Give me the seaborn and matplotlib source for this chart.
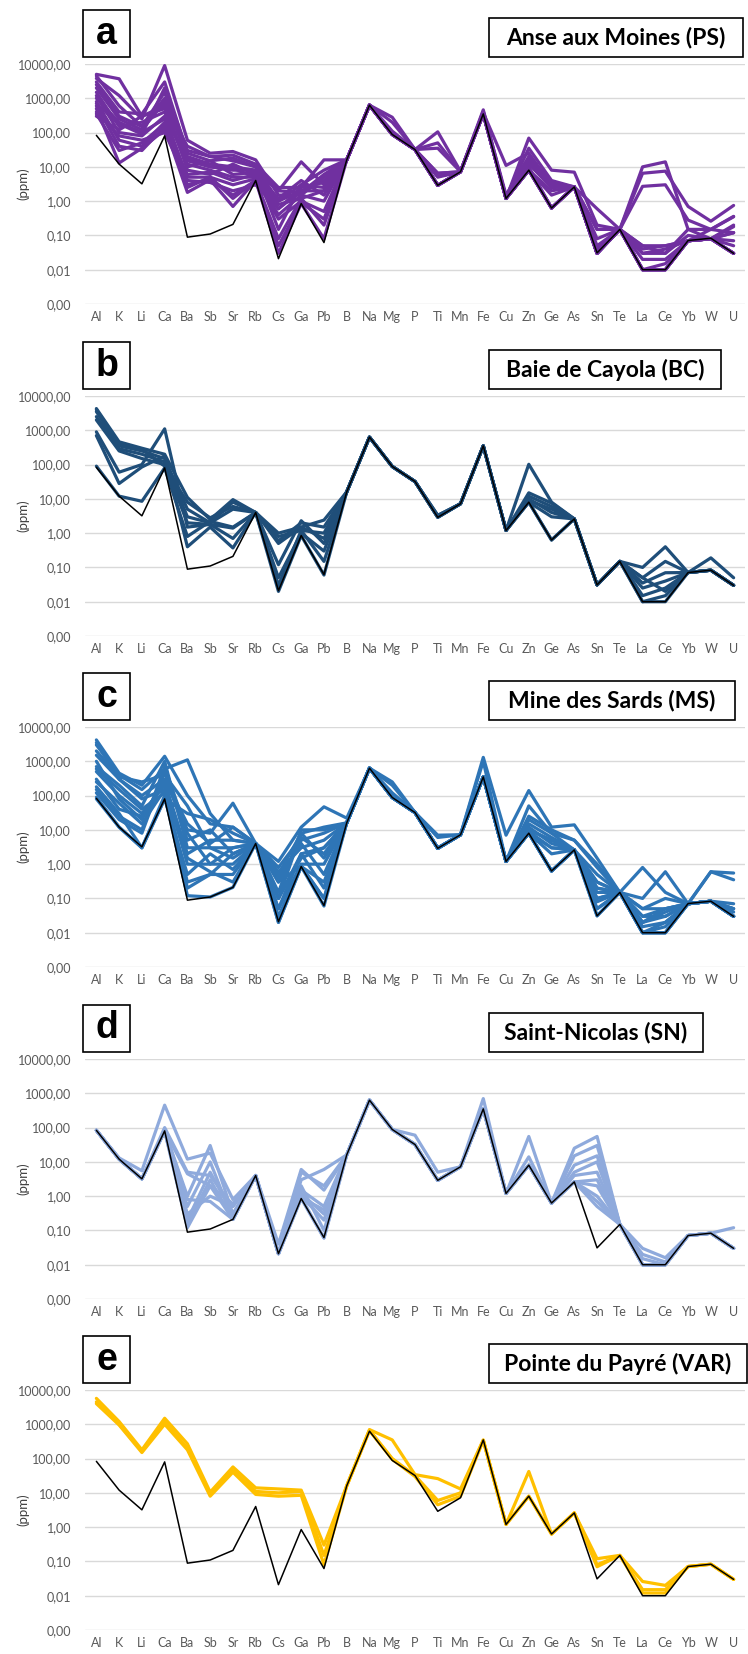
import matplotlib
matplotlib.use("Agg")
import matplotlib.pyplot as plt
from matplotlib.patches import Rectangle
from matplotlib.ticker import FixedLocator, FuncFormatter, NullLocator
import pandas as pd
import seaborn as sns

# ---------------------------------------------------------------- data
elements = ["Al", "K", "Li", "Ca", "Ba", "Sb", "Sr", "Rb", "Cs", "Ga", "Pb", "B",
            "Na", "Mg", "P", "Ti", "Mn", "Fe", "Cu", "Zn", "Ge", "As", "Sn", "Te",
            "La", "Ce", "Yb", "W", "U"]

# reference composition (black line, identical in every panel)
reference = [83, 12, 3.2, 80, 0.089, 0.11, 0.21, 4.0, 0.021, 0.85, 0.062, 16,
             630, 88, 32, 2.9, 7.2, 350, 1.2, 8.0, 0.63, 2.6, 0.031, 0.15,
             0.010, 0.010, 0.071, 0.083, 0.030]

# Anse aux Moines (PS)
ps_samples = [
    [5000, 3700, 300, 600, 40, 20, 22, 12, 2.5, 2.5, 16, 16, 630, 280, 32, 105, 7.4, 460, 1.3, 35, 4.0, 2.6, 0.15, 0.15, 10, 14, 0.15, 0.15, 0.35],
    [3800, 1200, 250, 9000, 60, 25, 28, 16, 1.5, 1.5, 5, 16, 630, 110, 32, 50, 7.4, 380, 11, 25, 3, 2.6, 0.6, 0.15, 6.5, 7.5, 0.7, 0.26, 0.75],
    [3000, 400, 350, 3000, 25, 15, 18, 10, 2.0, 14, 3, 16, 630, 95, 32, 35, 7.2, 400, 1.2, 69, 8, 7, 0.2, 0.15, 2.7, 3.0, 0.28, 0.15, 0.36],
    [2500, 300, 150, 1500, 15, 10, 8, 8, 1.0, 2.0, 4, 16, 630, 90, 32, 6.5, 7.2, 360, 1.2, 16, 2.7, 2.6, 0.03, 0.15, 0.03, 0.04, 0.07, 0.08, 0.18],
    [2000, 250, 120, 800, 8, 6, 12, 6, 0.8, 1.2, 2, 16, 630, 88, 32, 5.3, 7.2, 350, 1.2, 12, 2.5, 2.6, 0.05, 0.15, 0.05, 0.03, 0.15, 0.08, 0.12],
    [1500, 150, 200, 400, 12, 8, 5, 5, 0.4, 1.5, 1.0, 16, 630, 88, 32, 2.9, 7.2, 350, 1.2, 8, 2.0, 2.6, 0.04, 0.15, 0.02, 0.02, 0.07, 0.08, 0.07],
    [1200, 100, 80, 300, 5, 5, 3, 4.5, 0.3, 1.0, 0.5, 16, 630, 88, 32, 2.9, 7.2, 350, 1.2, 8, 1.5, 2.6, 0.03, 0.15, 0.04, 0.05, 0.07, 0.08, 0.12],
    [1000, 200, 100, 250, 20, 12, 10, 8, 0.15, 3.0, 2.5, 16, 630, 88, 32, 2.9, 7.2, 350, 1.2, 10, 0.63, 2.6, 0.03, 0.15, 0.01, 0.01, 0.07, 0.08, 0.05],
    [800, 60, 40, 200, 3, 4.5, 1.5, 4.0, 0.05, 0.9, 0.3, 16, 630, 88, 32, 2.9, 7.2, 350, 1.2, 8, 0.63, 2.6, 0.03, 0.15, 0.01, 0.015, 0.07, 0.08, 0.03],
    [600, 40, 30, 150, 1.8, 4.2, 0.7, 4.0, 0.03, 0.85, 0.08, 16, 630, 88, 32, 2.9, 7.2, 350, 1.2, 8, 0.63, 2.6, 0.03, 0.15, 0.01, 0.01, 0.07, 0.08, 0.03],
    [500, 13, 35, 120, 6, 7, 4, 6, 1.2, 4.0, 1.5, 16, 630, 88, 32, 2.9, 7.2, 350, 1.2, 8, 0.63, 2.6, 0.03, 0.15, 0.01, 0.01, 0.07, 0.08, 0.03],
    [400, 80, 60, 100, 4, 3.5, 2, 3, 0.6, 2.5, 3.5, 16, 630, 88, 32, 2.9, 7.2, 350, 1.2, 8, 0.63, 2.6, 0.03, 0.15, 0.01, 0.01, 0.07, 0.08, 0.03],
    [300, 120, 300, 500, 10, 15, 6, 7, 2.0, 1.8, 6, 16, 630, 88, 32, 2.9, 7.2, 350, 1.2, 8, 0.63, 2.6, 0.03, 0.15, 0.01, 0.01, 0.07, 0.08, 0.03],
    [700, 180, 90, 2000, 30, 20, 15, 10, 1.0, 3.0, 8, 16, 630, 200, 32, 6.5, 7.2, 420, 1.5, 20, 3.5, 2.6, 0.15, 0.15, 0.05, 0.05, 0.07, 0.15, 0.12],
    [350, 30, 50, 180, 2.5, 5, 1.2, 4, 0.08, 1.2, 0.2, 16, 630, 88, 32, 2.9, 7.2, 350, 1.2, 8, 0.63, 2.6, 0.03, 0.15, 0.01, 0.01, 0.07, 0.08, 0.03],
    [4500, 600, 150, 1000, 18, 10, 9, 5, 0.6, 2.0, 2.0, 16, 630, 100, 32, 5, 7.2, 370, 1.2, 14, 2.7, 2.6, 0.08, 0.15, 0.03, 0.03, 0.1, 0.08, 0.2],
]

# Baie de Cayola (BC)
bc_samples = [
    [4300, 460, 300, 200, 11, 2.5, 9.5, 4, 1.0, 1.5, 2.4, 16, 630, 88, 32, 3.3, 7.2, 350, 1.2, 15, 7.5, 2.6, 0.031, 0.15, 0.1, 0.4, 0.071, 0.083, 0.03],
    [3500, 350, 250, 150, 5, 2.0, 8, 4, 0.8, 1.2, 1.0, 16, 630, 88, 32, 3.3, 7.2, 350, 1.2, 12, 6, 2.6, 0.031, 0.15, 0.05, 0.15, 0.071, 0.19, 0.05],
    [2500, 290, 200, 120, 3, 2.0, 5, 4, 0.5, 1.5, 0.7, 16, 630, 88, 32, 3.0, 7.2, 350, 1.2, 10, 4, 2.6, 0.031, 0.15, 0.035, 0.07, 0.071, 0.083, 0.03],
    [2000, 250, 150, 100, 2, 1.8, 1.4, 4, 0.12, 2.3, 0.5, 16, 630, 88, 32, 3.0, 7.2, 350, 1.2, 8, 3, 2.6, 0.031, 0.15, 0.025, 0.04, 0.071, 0.083, 0.03],
    [900, 60, 100, 1100, 1.5, 1.8, 0.7, 4, 0.05, 1.0, 0.3, 16, 630, 88, 32, 2.9, 7.2, 350, 1.2, 102, 8, 2.6, 0.031, 0.15, 0.015, 0.025, 0.071, 0.083, 0.03],
    [700, 28, 85, 180, 0.4, 1.5, 0.37, 4, 0.03, 1.2, 0.15, 16, 630, 88, 32, 2.9, 7.2, 350, 1.2, 8, 0.63, 2.6, 0.031, 0.15, 0.01, 0.015, 0.071, 0.083, 0.03],
    [90, 12, 8.5, 80, 0.8, 2.2, 1.5, 4, 0.02, 0.85, 0.06, 16, 630, 88, 32, 2.9, 7.2, 350, 1.2, 8, 0.63, 2.6, 0.031, 0.15, 0.01, 0.01, 0.071, 0.083, 0.03],
    [4000, 400, 280, 90, 8, 2.8, 6, 4, 0.6, 2.0, 1.5, 16, 630, 88, 32, 3.0, 7.2, 350, 1.2, 9, 5, 2.6, 0.031, 0.15, 0.05, 0.02, 0.071, 0.083, 0.03],
]

# Mine des Sards (MS)
ms_samples = [
    [4200, 450, 200, 1400, 100, 15, 12, 4, 1.2, 12, 47, 22, 630, 250, 32, 7.0, 7.2, 1300, 7, 140, 12, 14, 1.5, 0.15, 0.8, 0.15, 0.07, 0.6, 0.55],
    [3000, 400, 150, 600, 1100, 30, 5, 4, 0.5, 8, 12, 16, 630, 200, 32, 6.0, 7.2, 1000, 1.2, 50, 8, 5, 1.0, 0.15, 0.1, 0.6, 0.07, 0.6, 0.35],
    [1500, 300, 100, 300, 10, 8, 60, 4, 0.3, 5, 8, 16, 630, 120, 32, 3.0, 7.2, 350, 1.2, 20, 8, 2.6, 0.5, 0.15, 0.05, 0.1, 0.07, 0.083, 0.07],
    [700, 200, 50, 1000, 3, 3, 3, 4, 0.1, 2, 3, 16, 630, 88, 32, 2.9, 7.2, 350, 1.2, 10, 5, 2.6, 0.2, 0.15, 0.02, 0.05, 0.07, 0.083, 0.05],
    [500, 100, 30, 200, 1, 1, 1, 4, 0.05, 1, 1, 16, 630, 88, 32, 2.9, 7.2, 350, 1.2, 8, 3, 2.6, 0.1, 0.15, 0.01, 0.02, 0.07, 0.083, 0.03],
    [250, 60, 15, 150, 0.3, 0.5, 0.5, 4, 0.02, 0.85, 0.3, 16, 630, 88, 32, 2.9, 7.2, 350, 1.2, 8, 0.63, 2.6, 0.05, 0.15, 0.01, 0.01, 0.07, 0.083, 0.03],
    [180, 30, 3, 100, 0.12, 0.11, 0.21, 4, 0.02, 0.85, 0.1, 16, 630, 88, 32, 2.9, 7.2, 350, 1.2, 8, 0.63, 2.6, 0.031, 0.15, 0.01, 0.01, 0.07, 0.083, 0.03],
    [120, 20, 8, 500, 5, 10, 2, 4, 0.6, 3, 5, 16, 630, 88, 32, 2.9, 7.2, 350, 1.2, 12, 4, 2.6, 0.3, 0.15, 0.03, 0.03, 0.07, 0.083, 0.05],
    [90, 12, 3, 80, 30, 20, 8, 4, 0.15, 10, 10, 16, 630, 88, 32, 2.9, 7.2, 350, 1.2, 25, 10, 5, 0.8, 0.15, 0.02, 0.04, 0.07, 0.083, 0.03],
    [80, 12, 3, 80, 0.5, 2, 0.7, 4, 0.03, 0.85, 0.06, 16, 630, 88, 32, 2.9, 7.2, 350, 1.2, 8, 0.63, 2.6, 0.031, 0.15, 0.01, 0.01, 0.07, 0.083, 0.03],
    [2000, 350, 250, 400, 50, 3, 1.5, 4, 0.8, 6, 2, 16, 630, 88, 32, 2.9, 7.2, 350, 1.2, 10, 5, 2.6, 0.2, 0.15, 0.05, 0.05, 0.07, 0.083, 0.04],
    [300, 40, 25, 250, 2, 5, 5, 4, 0.4, 4, 0.5, 16, 630, 88, 32, 2.9, 7.2, 350, 1.2, 9, 3, 2.6, 0.15, 0.15, 0.02, 0.03, 0.07, 0.083, 0.03],
    [150, 25, 10, 700, 8, 1, 3, 4, 0.1, 8, 1.5, 16, 630, 88, 32, 2.9, 7.2, 350, 1.2, 8, 2, 2.6, 0.1, 0.15, 0.015, 0.02, 0.07, 0.083, 0.03],
    [3500, 300, 80, 150, 1.5, 0.6, 0.3, 4, 0.05, 2, 0.2, 16, 630, 88, 32, 2.9, 7.2, 350, 1.2, 8, 0.63, 2.6, 0.05, 0.15, 0.01, 0.015, 0.07, 0.083, 0.03],
    [600, 150, 40, 120, 0.2, 0.5, 2, 4, 0.3, 0.9, 0.1, 16, 630, 88, 32, 2.9, 7.2, 350, 1.2, 8, 0.63, 2.6, 0.08, 0.15, 0.01, 0.01, 0.07, 0.083, 0.03],
    [1000, 80, 20, 300, 15, 4, 12, 4, 0.1, 1.5, 3, 16, 630, 88, 32, 2.9, 7.2, 350, 1.2, 15, 6, 2.6, 0.3, 0.15, 0.03, 0.05, 0.07, 0.083, 0.05],
]

# Saint-Nicolas (SN)
sn_samples = [
    [83, 13, 5.5, 450, 12, 18, 0.8, 4, 0.04, 6, 1.5, 16, 630, 88, 60, 5, 7.2, 700, 1.2, 55, 0.63, 25, 55, 0.15, 0.03, 0.016, 0.071, 0.083, 0.12],
    [83, 12, 3.2, 100, 5, 4, 0.5, 4, 0.021, 3, 6, 16, 630, 88, 32, 2.9, 7.2, 350, 1.2, 14, 0.63, 15, 30, 0.15, 0.02, 0.012, 0.071, 0.083, 0.03],
    [83, 12, 3.2, 80, 1, 30, 0.3, 4, 0.021, 1.5, 0.5, 16, 630, 88, 32, 2.9, 7.2, 350, 1.2, 8, 0.63, 8, 15, 0.15, 0.015, 0.01, 0.071, 0.083, 0.03],
    [83, 12, 3.2, 80, 0.5, 10, 0.21, 4, 0.021, 1.0, 0.2, 16, 630, 88, 32, 2.9, 7.2, 350, 1.2, 8, 0.63, 4, 5, 0.15, 0.01, 0.01, 0.071, 0.083, 0.03],
    [83, 12, 3.2, 80, 0.2, 5, 0.3, 4, 0.021, 2, 0.1, 16, 630, 88, 32, 2.9, 7.2, 350, 1.2, 8, 0.63, 2.6, 2, 0.15, 0.01, 0.01, 0.071, 0.083, 0.03],
    [83, 12, 3.2, 80, 0.12, 2, 0.21, 4, 0.021, 0.9, 0.06, 16, 630, 88, 32, 2.9, 7.2, 350, 1.2, 8, 0.63, 2.6, 1, 0.15, 0.01, 0.01, 0.071, 0.083, 0.03],
    [83, 12, 3.2, 80, 0.3, 1, 0.5, 4, 0.021, 1.2, 0.3, 16, 630, 88, 32, 2.9, 7.2, 350, 1.2, 8, 0.63, 2.6, 0.5, 0.15, 0.01, 0.01, 0.071, 0.083, 0.03],
    [83, 12, 3.2, 80, 0.8, 0.7, 0.21, 4, 0.021, 0.9, 0.4, 16, 630, 88, 32, 2.9, 7.2, 350, 1.2, 8, 0.63, 5, 10, 0.15, 0.01, 0.01, 0.071, 0.083, 0.03],
    [83, 12, 3.2, 80, 0.15, 3, 0.21, 4, 0.021, 0.85, 0.06, 16, 630, 88, 32, 2.9, 7.2, 350, 1.2, 8, 0.63, 2.6, 3, 0.15, 0.01, 0.01, 0.071, 0.083, 0.03],
    [83, 12, 3.2, 80, 4.5, 2, 0.6, 4, 0.021, 5, 2, 16, 630, 88, 32, 2.9, 7.2, 350, 1.2, 8, 0.63, 2.6, 0.7, 0.15, 0.01, 0.01, 0.071, 0.083, 0.03],
]

# Pointe du Payré (VAR)
var_samples = [
    [5700, 1200, 180, 1500, 270, 10.5, 57, 14, 13, 12, 0.3, 16, 700, 350, 34, 26, 13, 350, 1.2, 42, 0.63, 2.6, 0.12, 0.15, 0.026, 0.02, 0.071, 0.083, 0.03],
    [4500, 1000, 160, 1200, 200, 9, 45, 11, 10, 11, 0.15, 16, 680, 100, 32, 6, 10, 340, 1.2, 8, 0.63, 2.6, 0.08, 0.15, 0.015, 0.015, 0.071, 0.083, 0.03],
    [4000, 950, 150, 1000, 180, 8, 40, 9, 8, 8.5, 0.08, 16, 650, 95, 30, 4.5, 8, 340, 1.2, 8, 0.63, 2.6, 0.07, 0.15, 0.012, 0.012, 0.071, 0.083, 0.03],
]

panel_letters = ["a", "b", "c", "d", "e"]
panel_titles = ["Anse aux Moines (PS)", "Baie de Cayola (BC)", "Mine des Sards (MS)",
                "Saint-Nicolas (SN)", "Pointe du Payré (VAR)"]
panel_colors = ["#7030A0", "#1F4E79", "#2E75B6", "#8FAADC", "#FFC000"]
panel_samples = [ps_samples, bc_samples, ms_samples, sn_samples, var_samples]
y_ticks = [0.001, 0.01, 0.1, 1, 10, 100, 1000, 10000]

# ---------------------------------------------------------------- layout (pixels)
W, H = 748, 1654
AX_LEFT, AX_RIGHT, AX_H = 85, 745, 240
ax_tops = [64, 396, 727, 1059, 1390]
title_widths = [254, 232, 246, 214, 258]

sns.set_theme(style="white")
plt.rcParams["font.family"] = ["Lato", "DejaVu Sans"]

fig = plt.figure(figsize=(W / 100, H / 100), dpi=100)


def px_rect(x0, y0, w, h):
    return (x0 / W, 1 - (y0 + h) / H, w / W, h / H)


def comma_fmt(v, _pos):
    return f"{v:.2f}".replace(".", ",")


for i in range(5):
    top = ax_tops[i]
    ax = fig.add_axes(px_rect(AX_LEFT, top, AX_RIGHT - AX_LEFT, AX_H))

    long = pd.DataFrame(
        [(f"s{k}", el, v) for k, row in enumerate(panel_samples[i])
         for el, v in zip(elements, row)],
        columns=["sample", "element", "ppm"],
    )
    sns.lineplot(data=long, x="element", y="ppm", units="sample", estimator=None,
                 color=panel_colors[i], lw=2.3, sort=False, legend=False, ax=ax)
    sns.lineplot(x=elements, y=reference, color="black", lw=1.1, sort=False, ax=ax)

    ax.set_yscale("log")
    ax.set_ylim(0.001, 10000)
    ax.set_xlim(-0.5, len(elements) - 0.5)
    ax.yaxis.set_major_locator(FixedLocator(y_ticks))
    ax.yaxis.set_minor_locator(NullLocator())
    ax.yaxis.set_major_formatter(FuncFormatter(comma_fmt))
    ax.grid(axis="y", color="#D9D9D9", lw=1.0)
    ax.grid(axis="x", visible=False)
    ax.set_axisbelow(True)
    for s in ax.spines.values():
        s.set_visible(False)
    ax.tick_params(axis="y", length=0, pad=10, labelsize=9, labelcolor="#595959")
    ax.tick_params(axis="x", length=0, pad=5, labelsize=9, labelcolor="#595959")
    ax.set_xlabel("")
    ax.set_ylabel("")

    # axis title
    fig.text(23 / W, 1 - (top + AX_H / 2) / H, "(ppm)", rotation=90,
             ha="center", va="center", fontsize=9.5, color="#404040")

    # panel letter box
    lb = px_rect(83, top - 54, 47, 47)
    fig.add_artist(Rectangle(lb[:2], lb[2], lb[3], transform=fig.transFigure,
                             fill=False, ec="black", lw=1.2))
    fig.text(lb[0] + lb[2] / 2, lb[1] + lb[3] / 2, panel_letters[i],
             ha="center", va="center", fontsize=27, fontweight="bold",
             family=["Liberation Sans", "DejaVu Sans"], color="black")

    # site title box
    tb = px_rect(489, top - 46, title_widths[i], 39)
    fig.add_artist(Rectangle(tb[:2], tb[2], tb[3], transform=fig.transFigure,
                             fill=False, ec="black", lw=1.2))
    fig.text(tb[0] + tb[2] / 2, tb[1] + tb[3] / 2, panel_titles[i],
             ha="center", va="center", fontsize=16.5, fontweight="bold",
             color="black")

fig.savefig("out.png", dpi=100)
